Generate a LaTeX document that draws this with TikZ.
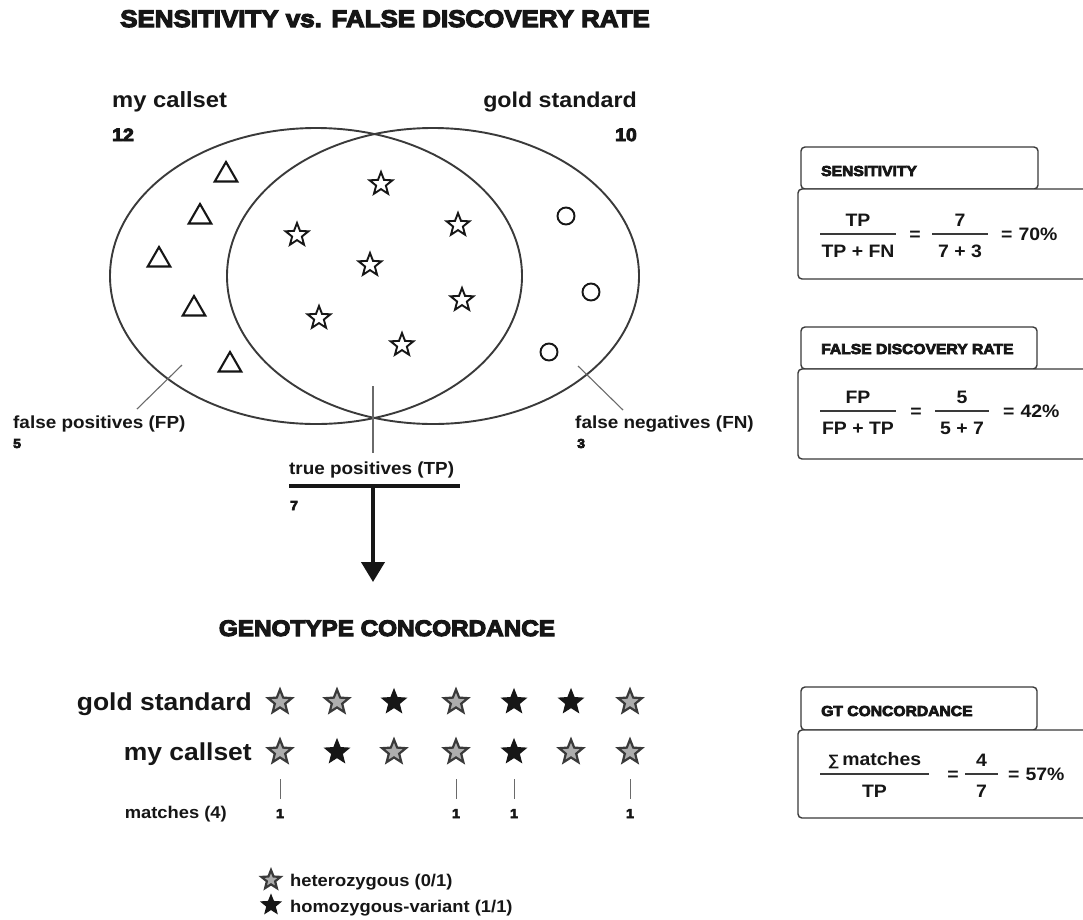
\documentclass[tikz,border=0pt]{standalone}
\usepackage{fontspec}
\setmainfont{Liberation Sans}[FakeStretch=1.08]
\newfontfamily\heavy{Liberation Sans Bold}[FakeStretch=1.08,FakeBold=5]
\usetikzlibrary{shapes.geometric,arrows.meta}
\definecolor{ink}{HTML}{161616}
\definecolor{edge}{HTML}{3A3A3A}
\definecolor{thin}{HTML}{6A6A6A}
\definecolor{hetfill}{HTML}{ADADAD}
\begin{document}
\begin{tikzpicture}[x=1pt,y=-1pt,
  txt/.style={inner sep=0pt, text=ink, font=\bfseries\fontsize{#1}{#1}\selectfont},
  hvy/.style={inner sep=0pt, text=ink, font=\heavy\fontsize{#1}{#1}\selectfont},
  venn/.style={draw=edge, line width=1.9pt},
  leader/.style={draw=thin, line width=1.1pt},
  vstar/.style={star, star points=5, star point ratio=2.35, minimum size=24pt, inner sep=0pt, draw=ink, fill=white, line width=1.9pt},
  vtri/.style={regular polygon, regular polygon sides=3, minimum size=26pt, inner sep=0pt, draw=ink, line width=2.1pt},
  vcirc/.style={circle, minimum size=17pt, inner sep=0pt, draw=ink, line width=1.9pt},
  het/.style={star, star points=5, star point ratio=2.3, minimum size=#1, inner sep=0pt, draw=edge, fill=hetfill, line width=2.2pt},
  hom/.style={star, star points=5, star point ratio=2.3, minimum size=#1, inner sep=0pt, draw=ink, fill=ink, line width=1.2pt},
  tick/.style={draw=thin, line width=1pt},
  boxline/.style={draw=edge, line width=1.4pt, rounded corners=4pt, fill=white},
  fbar/.style={draw=edge, line width=1.8pt}
]
\clip (0,0) rectangle (1083,919);
\fill[white] (0,0) rectangle (1083,919);

% ---------- title ----------
\node[hvy=24, anchor=base] (title) at (385,27) {SENSITIVITY vs. FALSE DISCOVERY RATE};

% ---------- Venn ----------
\node[txt=22, anchor=base west] (mycs) at (112,107) {my callset};
\node[hvy=18, anchor=base west] (n12) at (112,141) {12};
\node[txt=21.5, anchor=base east] (gold) at (637,107) {gold standard};
\node[hvy=18, anchor=base east] (n10) at (637,141) {10};

\draw[venn] (316,276) ellipse [x radius=206, y radius=148];
\draw[venn] (433,276) ellipse [x radius=206, y radius=148];

\node[vtri] (t1) at (226,175) {};
\node[vtri] (t2) at (200,217) {};
\node[vtri] (t3) at (159,260) {};
\node[vtri] (t4) at (194,309) {};
\node[vtri] (t5) at (230,365) {};

\node[vstar] (s1) at (381,184) {};
\node[vstar] (s2) at (297,235) {};
\node[vstar] (s3) at (458,225) {};
\node[vstar] (s4) at (370,265) {};
\node[vstar] (s5) at (462,300) {};
\node[vstar] (s6) at (319,318) {};
\node[vstar] (s7) at (402,345) {};

\node[vcirc] (c1) at (566,216) {};
\node[vcirc] (c2) at (591,292) {};
\node[vcirc] (c3) at (549,352) {};

% leaders
\coordinate (fpA) at (182,365);
\coordinate (fpB) at (137,409);
\draw[leader] (fpA) -- (fpB);
\node[txt=17.5, anchor=base west] (fpl) at (13,428) {false positives (FP)};
\node[hvy=13, anchor=base west] (fpn) at (13,448) {5};

\coordinate (fnA) at (578,366);
\coordinate (fnB) at (623,410);
\draw[leader] (fnA) -- (fnB);
\node[txt=17.5, anchor=base west] (fnl) at (575,428) {false negatives (FN)};
\node[hvy=13, anchor=base west] (fnn) at (577,448) {3};

\coordinate (tpA) at (373,386);
\coordinate (tpB) at (373,453);
\draw[leader] (tpA) -- (tpB);
\node[txt=17.5, anchor=base west] (tpl) at (289,474) {true positives (TP)};
\coordinate (barL) at (289,486);
\coordinate (barR) at (460,486);
\draw[draw=ink, line width=4pt] (barL) -- (barR);
\node[hvy=13, anchor=base west] (tpn) at (290,510) {7};
\coordinate (arrS) at (373,486);
\coordinate (arrE) at (373,582);
\draw[draw=ink, line width=4pt, -{Triangle[width=23pt,length=20pt]}] (arrS) -- (arrE);

% ---------- Genotype concordance ----------
\node[hvy=22.5, anchor=base] (gtitle) at (387,636) {GENOTYPE CONCORDANCE};

\node[txt=24.5, anchor=base east] (rgold) at (252,710) {gold standard};
\node[txt=24.5, anchor=base east] (rmine) at (252,760) {my callset};
\node[txt=17, anchor=base east] (rmatch) at (227,818) {matches (4)};

\node[het=25pt] (g1) at (280,702) {};
\node[het=25pt] (g2) at (337,702) {};
\node[hom=25pt] (g3) at (394,702) {};
\node[het=25pt] (g4) at (456,702) {};
\node[hom=25pt] (g5) at (514,702) {};
\node[hom=25pt] (g6) at (571,702) {};
\node[het=25pt] (g7) at (630,702) {};

\node[het=25pt] (m1) at (280,752) {};
\node[hom=25pt] (m2) at (337,752) {};
\node[het=25pt] (m3) at (394,752) {};
\node[het=25pt] (m4) at (456,752) {};
\node[hom=25pt] (m5) at (514,752) {};
\node[het=25pt] (m6) at (571,752) {};
\node[het=25pt] (m7) at (630,752) {};

\foreach \k/\xx in {1/280,4/456,5/514,7/630}{
  \coordinate (tk\k a) at (\xx,779);
  \coordinate (tk\k b) at (\xx,799);
  \draw[tick] (tk\k a) -- (tk\k b);
  \node[hvy=13, anchor=base] (one\k) at (\xx,818) {1};
}

% legend
\node[het=20pt] (lg1) at (271,880) {};
\node[txt=17, anchor=base west] (lt1) at (290,886) {heterozygous (0/1)};
\node[hom=20pt] (lg2) at (271,905) {};
\node[txt=17, anchor=base west] (lt2) at (290,912) {homozygous-variant (1/1)};

% ---------- formula boxes ----------
% Sensitivity
\path[boxline] (801,189) rectangle (1038,147);
\path[boxline] (798,189) rectangle (1110,279);
\node[hvy=14.5, anchor=base west] (sensT) at (821,176) {SENSITIVITY};
\node[txt=18, anchor=base] (sn1) at (858,226) {TP};
\draw[fbar] (820,234) -- (896,234);
\node[txt=18, anchor=base] (sd1) at (858,257) {TP + FN};
\node[txt=18, anchor=base] (se1) at (915,240) {=};
\node[txt=18, anchor=base] (sn2) at (960,226) {7};
\draw[fbar] (932,234) -- (988,234);
\node[txt=18, anchor=base] (sd2) at (960,257) {7 + 3};
\node[txt=18, anchor=base west] (sr) at (1001,240) {=\,\,70\%};

% FDR
\path[boxline] (801,369) rectangle (1037,327);
\path[boxline] (798,369) rectangle (1110,459);
\node[hvy=14.5, anchor=base west] (fdrT) at (821,354) {FALSE DISCOVERY RATE};
\node[txt=18, anchor=base] (fn1) at (858,403) {FP};
\draw[fbar] (820,411) -- (896,411);
\node[txt=18, anchor=base] (fd1) at (858,434) {FP + TP};
\node[txt=18, anchor=base] (fe1) at (916,417) {=};
\node[txt=18, anchor=base] (fn2) at (962,403) {5};
\draw[fbar] (935,411) -- (989,411);
\node[txt=18, anchor=base] (fd2) at (962,434) {5 + 7};
\node[txt=18, anchor=base west] (fr) at (1003,417) {=\,\,42\%};

% GT concordance
\path[boxline] (801,730) rectangle (1037,687);
\path[boxline] (798,730) rectangle (1110,818);
\node[hvy=14.5, anchor=base west] (gtT) at (821,716) {GT CONCORDANCE};
\node[txt=18, anchor=base] (gn1) at (874.5,765) {{\fontsize{15}{15}\selectfont ∑}\,matches};
\draw[fbar] (820,774) -- (929,774);
\node[txt=18, anchor=base] (gd1) at (874.5,797) {TP};
\node[txt=18, anchor=base] (ge1) at (953,780) {=};
\node[txt=18, anchor=base] (gn2) at (981.5,766) {4};
\draw[fbar] (965,774) -- (998,774);
\node[txt=18, anchor=base] (gd2) at (981.5,797) {7};
\node[txt=18, anchor=base west] (gr) at (1008,780) {=\,\,57\%};
\end{tikzpicture}
\end{document}
